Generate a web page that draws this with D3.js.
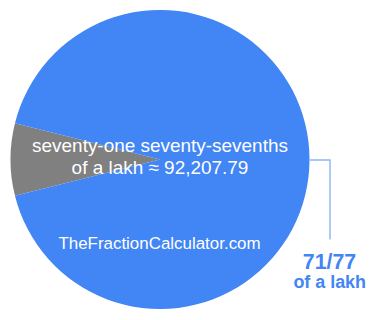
<!DOCTYPE html>
<html><head><meta charset="utf-8">
<script src="https://cdn.jsdelivr.net/npm/d3@7"></script>
<style>html,body{margin:0;padding:0;background:#fff;}svg{display:block;}</style>
</head><body>
<svg id="c" width="385" height="320"></svg>
<script>
const categories = ["rest", "71/77 of a lakh"];
const values = [6, 71];
const colors = ["#808080", "#4285f4"];
const centerLines = ["seventy-one seventy-sevenths", "of a lakh \u2248 92,207.79"];
const watermark = "TheFractionCalculator.com";
const labelLines = ["71/77", "of a lakh"];

const svg = d3.select("#c");
const cx = 160, cy = 159.5, r = 149.5;
const total = d3.sum(values);
const half = Math.PI * values[0] / total;
const a0 = 1.5 * Math.PI - half;
const pie = d3.pie().sort(null).startAngle(a0).endAngle(a0 + 2 * Math.PI);
const arc = d3.arc().innerRadius(0).outerRadius(r);
const g = svg.append("g").attr("transform", `translate(${cx},${cy})`);
g.selectAll("path").data(pie(values)).join("path")
  .attr("d", arc).attr("fill", (d, i) => colors[i]);

const font = "Liberation Sans, Arial, Helvetica, sans-serif";
function fit(sel, base, target) {
  sel.attr("font-size", base);
  const w = sel.node().getComputedTextLength();
  sel.attr("font-size", base * target / w);
  return sel;
}
const t1 = svg.append("text").attr("x", cx).attr("y", 151.5)
  .attr("text-anchor", "middle").attr("fill", "#fff")
  .attr("font-family", font).text(centerLines[0]);
fit(t1, 17, 256);
const fs = +t1.attr("font-size");
svg.append("text").attr("x", cx).attr("y", 174.2)
  .attr("text-anchor", "middle").attr("fill", "#fff")
  .attr("font-family", font).attr("font-size", fs).text(centerLines[1]);

const wm = svg.append("text").attr("x", 159.5).attr("y", 249.3)
  .attr("text-anchor", "middle").attr("fill", "#fff")
  .attr("font-family", font).text(watermark);
fit(wm, 15, 202.4);

// leader line
svg.append("path")
  .attr("d", d3.line()([[cx + r, cy + 0.5], [330, cy + 0.5], [330, 239.5]]))
  .attr("fill", "none").attr("stroke", "#8ab4f8").attr("stroke-width", 1.4);

const l1 = svg.append("text").attr("x", 329.5).attr("y", 269.3)
  .attr("text-anchor", "middle").attr("fill", "#4285f4").attr("font-weight", "bold")
  .attr("font-family", font).text(labelLines[0]);
fit(l1, 21, 53.3);
const l2 = svg.append("text").attr("x", 329.7).attr("y", 288.3)
  .attr("text-anchor", "middle").attr("fill", "#4285f4").attr("font-weight", "bold")
  .attr("font-family", font).text(labelLines[1]);
fit(l2, 17, 72.7);
</script>
</body></html>
